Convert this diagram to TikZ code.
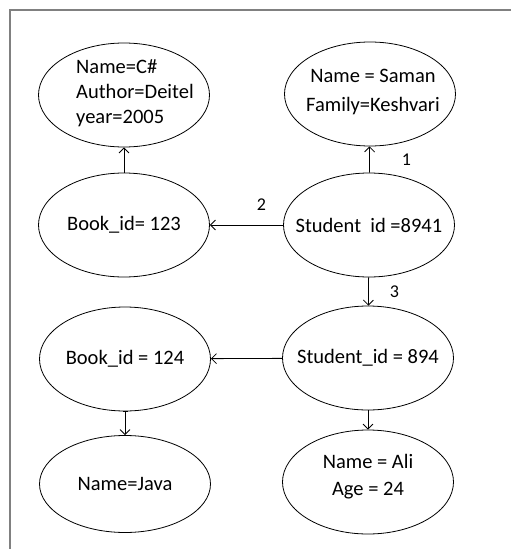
\documentclass[tikz,border=0pt]{standalone}
\usepackage{fontspec}
\setmainfont{Carlito}
\usetikzlibrary{arrows.meta,positioning,shapes.geometric}

\begin{document}
\begin{tikzpicture}[x=1pt,y=-1pt,>={Straight Barb[length=5pt,width=10pt]},line width=0.8pt,
  rec/.style={ellipse,draw,minimum width=171pt,minimum height=104pt,inner sep=0pt},
  txt/.style={font=\fontsize{20.5}{25}\selectfont,inner sep=0pt},
  lbl/.style={font=\fontsize{18}{20}\selectfont,inner sep=0pt}]
  \useasboundingbox (0,0) rectangle (511,549);
  \draw[gray,line width=1.5pt] (10,549) -- (10,10) -- (511,10);

  \node[rec,label={[txt,align=left,xshift=11pt,yshift=2pt]center:{Name=C\#\\Author=Deitel\\year=2005}}] (book) at (124,95) {};
  \node[rec,label={[txt]center:{Book\_id= 123}}] (b123) at (124,225) {};
  \node[rec,label={[txt]center:{Book\_id = 124}}] (b124) at (125,359) {};
  \node[rec,minimum height=97pt,label={[txt]center:{Name=Java}}] (java) at (125,484) {};

  \node[rec,label={[txt,align=center,xshift=3pt,yshift=2pt,font=\fontsize{20.5}{29}\selectfont]center:{Name = Saman\\Family=Keshvari}}] (saman) at (370,94) {};
  \node[rec,label={[txt]center:{Student\ \ id =8941}}] (s8941) at (369,225) {};
  \node[rec,label={[txt]center:{Student\_id = 894}}] (s894) at (368,358) {};
  \node[rec,label={[txt,align=center,yshift=5pt,font=\fontsize{20.5}{27}\selectfont]center:{Name = Ali\\Age = 24}}] (ali) at (368,482) {};

  \draw[->] (b123) -- (book);
  \draw[->] (s8941) -- node[lbl,midway,xshift=37pt]{1} (saman);
  \draw[->] (s8941) -- node[lbl,midway,xshift=15pt,yshift=20pt]{2} (b123);
  \draw[->] (s8941) -- node[lbl,midway,xshift=26pt]{3} (s894);
  \draw[->] (s894) -- (b124);
  \draw[{Bar[width=5pt]}->] (b124) -- (java);
  \draw[->] (s894) -- (ali);
\end{tikzpicture}
\end{document}
